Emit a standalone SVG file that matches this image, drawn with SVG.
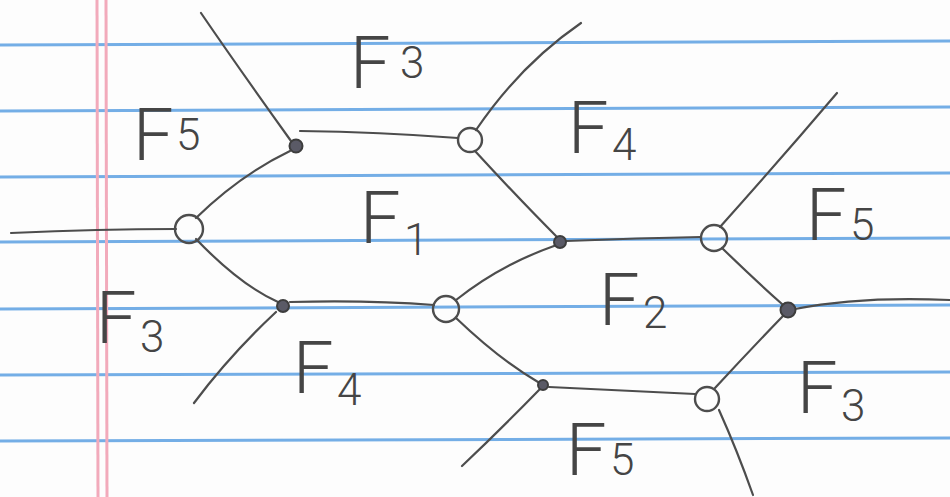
<svg xmlns="http://www.w3.org/2000/svg" width="950" height="497" viewBox="0 0 950 497">
<style>
.rule{stroke:#74aee6;stroke-width:3;fill:none}
.margin{stroke:#f2aabb;stroke-width:3;fill:none}
.edge{stroke:#4d4d4d;stroke-width:2.2;fill:none;stroke-linecap:round}
.open{fill:none;stroke:#4d4d4d;stroke-width:2.4}
.dot{fill:#5a5a66;stroke:#3d3d3d;stroke-width:2}
.lb{font-family:Roboto,"Open Sans","Liberation Sans",sans-serif;font-weight:300;font-size:72px;fill:#454545}
.sub{font-size:44px}
</style>
<rect width="950" height="497" fill="#fdfdfd"/>
<g id="paper">
<path class="rule" d="M0 45 L950 41"/>
<path class="rule" d="M0 111 L950 107"/>
<path class="rule" d="M0 177 L950 173"/>
<path class="rule" d="M0 242 L950 238"/>
<path class="rule" d="M0 309 L950 305"/>
<path class="rule" d="M0 375 L950 372"/>
<path class="rule" d="M0 441 L950 438"/>
<path class="margin" d="M97 0 L98 497"/>
<path class="margin" d="M106 0 L107 497"/>
</g>
<g id="connectors">
<path class="edge" d="M201 13 Q240 70 291 141"/>
<path class="edge" d="M300 131 Q380 132 458 138"/>
<path class="edge" d="M581 23 Q520 65 476 130"/>
<path class="edge" d="M290 151 Q240 175 196 218"/>
<path class="edge" d="M11 233 Q100 229 176 229"/>
<path class="edge" d="M475 151 Q520 200 556 236"/>
<path class="edge" d="M566 241 Q640 238 701 237"/>
<path class="edge" d="M837 93 Q780 160 720 227"/>
<path class="edge" d="M196 239 Q240 285 278 302"/>
<path class="edge" d="M276 312 Q230 355 194 403"/>
<path class="edge" d="M290 302 Q370 300 434 305"/>
<path class="edge" d="M456 300 Q500 265 554 246"/>
<path class="edge" d="M456 318 Q500 360 538 382"/>
<path class="edge" d="M540 389 Q500 430 462 466"/>
<path class="edge" d="M549 387 Q630 391 695 394"/>
<path class="edge" d="M715 388 Q750 350 783 316"/>
<path class="edge" d="M722 248 Q755 280 782 304"/>
<path class="edge" d="M795 309 Q860 296 950 300"/>
<path class="edge" d="M719 410 Q737 450 753 495"/>
</g>
<g id="n1"><circle class="dot" cx="296" cy="146" r="6.5"/></g>
<g id="n2"><circle class="open" cx="470" cy="140" r="12"/></g>
<g id="n3"><circle class="open" cx="189" cy="229" r="14"/></g>
<g id="n4"><circle class="dot" cx="560" cy="242" r="6"/></g>
<g id="n5"><circle class="open" cx="714" cy="238" r="13"/></g>
<g id="n6"><circle class="dot" cx="283" cy="306" r="6"/></g>
<g id="n7"><circle class="open" cx="446" cy="309" r="13"/></g>
<g id="n8"><circle class="dot" cx="788" cy="310" r="7.5"/></g>
<g id="n9"><circle class="dot" cx="543" cy="385" r="5"/></g>
<g id="n10"><circle class="open" cx="707" cy="399" r="12"/></g>
<g id="labels">
<text class="lb" x="133" y="160">F<tspan class="sub" x="176" y="150">5</tspan></text>
<text class="lb" x="350" y="88">F<tspan class="sub" x="400" y="78">3</tspan></text>
<text class="lb" x="568" y="153">F<tspan class="sub" x="612" y="160">4</tspan></text>
<text class="lb" x="360" y="243">F<tspan class="sub" x="404" y="255">1</tspan></text>
<text class="lb" x="806" y="240">F<tspan class="sub" x="850" y="240">5</tspan></text>
<text class="lb" x="96" y="343">F<tspan class="sub" x="140" y="352">3</tspan></text>
<text class="lb" x="599" y="325">F<tspan class="sub" x="643" y="328">2</tspan></text>
<text class="lb" x="293" y="393">F<tspan class="sub" x="337" y="405">4</tspan></text>
<text class="lb" x="797" y="413">F<tspan class="sub" x="841" y="421">3</tspan></text>
<text class="lb" x="566" y="475">F<tspan class="sub" x="610" y="475">5</tspan></text>
</g>
</svg>
